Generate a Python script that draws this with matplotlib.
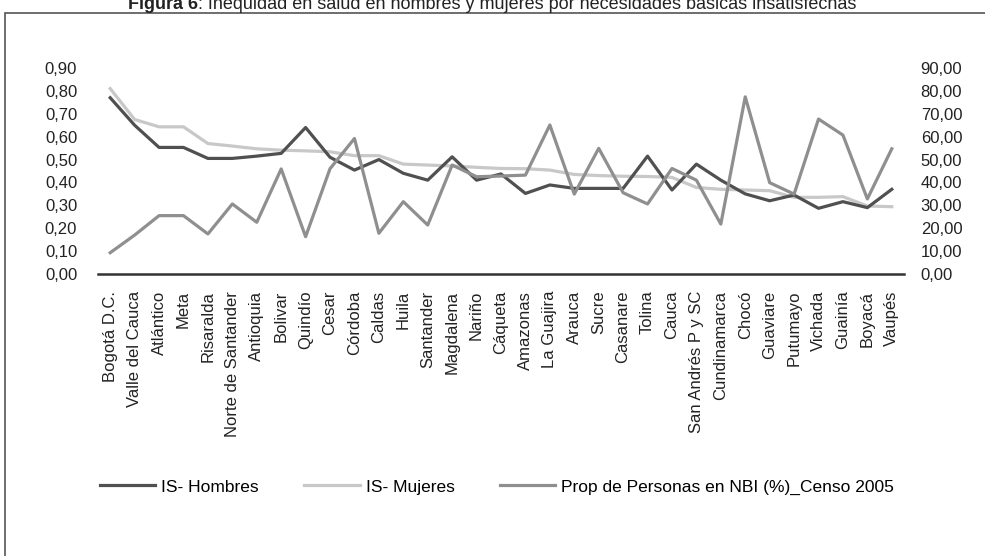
import numpy as np
import matplotlib.pyplot as plt
from matplotlib.patches import Rectangle

plt.rcParams['font.family'] = ['Liberation Sans', 'DejaVu Sans']

# departamentos
departamentos = [
    'Bogotá D.C.', 'Valle del Cauca', 'Atlántico', 'Meta', 'Risaralda',
    'Norte de Santander', 'Antioquia', 'Bolivar', 'Quindío', 'Cesar',
    'Córdoba', 'Caldas', 'Huila', 'Santander', 'Magdalena', 'Nariño',
    'Cáqueta', 'Amazonas', 'La Guajira', 'Arauca', 'Sucre', 'Casanare',
    'Tolina', 'Cauca', 'San Andrés P y SC', 'Cundinamarca', 'Chocó',
    'Guaviare', 'Putumayo', 'Vichada', 'Guainía', 'Boyacá', 'Vaupés',
]

# indice IS hombres / mujeres (eje izq.)
is_hombres = [0.77, 0.65, 0.553, 0.553, 0.505, 0.505, 0.515, 0.527, 0.64, 0.51,
              0.454, 0.50, 0.44, 0.41, 0.512, 0.41, 0.437, 0.352, 0.389, 0.374,
              0.374, 0.374, 0.515, 0.367, 0.48, 0.41, 0.35, 0.32, 0.345, 0.287,
              0.316, 0.29, 0.37]
is_mujeres = [0.81, 0.675, 0.643, 0.643, 0.57, 0.559, 0.547, 0.541, 0.538, 0.534,
              0.517, 0.517, 0.48, 0.476, 0.472, 0.466, 0.461, 0.46, 0.454, 0.435,
              0.43, 0.427, 0.426, 0.422, 0.378, 0.37, 0.367, 0.364, 0.335, 0.335,
              0.338, 0.297, 0.294]

# NBI % censo 2005 (eje der.)
nbi = [9.3, 17.0, 25.5, 25.5, 17.5, 30.6, 22.6, 45.9, 16.3, 46.0,
       59.2, 17.8, 31.6, 21.4, 47.6, 42.5, 42.8, 43.2, 65.1, 34.9,
       54.9, 35.5, 30.6, 46.1, 41.0, 21.8, 77.4, 39.9, 34.9, 67.7,
       60.7, 32.8, 54.7]

W, H = 985, 556
fig = plt.figure(figsize=(W / 100, H / 100), dpi=100, facecolor='white')

# marco de la figura (sale por la derecha y por abajo)
fig.patches.append(Rectangle((5 / W, -0.1), 1.1, 1.1 - 13 / H, transform=fig.transFigure,
                             fill=False, edgecolor='#555555', lw=1.2, zorder=0))

# titulo, cortado arriba como en el original
ty = 1 - 9 / H
t1 = fig.text(0, ty, 'Figura 6', fontsize=13, fontweight='bold',
              ha='left', va='baseline', color='#222222')
t2 = fig.text(0, ty, ': Inequidad en salud en hombres y mujeres por necesidades básicas insatisfechas',
              fontsize=13, ha='left', va='baseline', color='#222222')
fig.canvas.draw()
w1 = t1.get_window_extent().width
w2 = t2.get_window_extent().width
x0 = 492 - (w1 + w2) / 2
t1.set_x(x0 / W)
t2.set_x((x0 + w1) / W)

ax = fig.add_axes([98 / W, 1 - 274 / H, (904 - 98) / W, (274 - 68) / H])
ax2 = ax.twinx()

x = np.arange(len(departamentos))
l1, = ax.plot(x, is_hombres, color='#505050', lw=2.3, label='IS- Hombres', zorder=3)
l2, = ax.plot(x, is_mujeres, color='#c8c8c8', lw=2.3, label='IS- Mujeres', zorder=2)
l3, = ax2.plot(x, nbi, color='#8f8f8f', lw=2.3, label='Prop de Personas en NBI (%)_Censo 2005')

ax.set_xlim(-0.5, len(departamentos) - 0.5)
ax.set_ylim(0, 0.9)
ax2.set_ylim(0, 90)
ax.set_yticks(np.arange(0, 0.91, 0.1))
ax2.set_yticks(np.arange(0, 91, 10))
ax.set_yticklabels([f'{v:.2f}'.replace('.', ',') for v in np.arange(0, 0.91, 0.1)])
ax2.set_yticklabels([f'{v:.2f}'.replace('.', ',') for v in np.arange(0, 91, 10)])

ax.set_xticks(x)
ax.set_xticklabels(departamentos, rotation=90, fontsize=12, color='#222222')

for a in (ax, ax2):
    for s in ('top', 'left', 'right', 'bottom'):
        a.spines[s].set_visible(False)
ax.spines['bottom'].set_visible(True)
ax.spines['bottom'].set_color('#333333')
ax.spines['bottom'].set_linewidth(1.8)

ax.tick_params(axis='x', length=0, pad=12)
ax.tick_params(axis='y', length=0, pad=15, labelsize=12, labelcolor='#222222')
ax2.tick_params(axis='y', length=0, pad=12, labelsize=12, labelcolor='#222222')

fig.legend(handles=[l1, l2, l3], loc='center', bbox_to_anchor=(497 / W, 1 - 487 / H),
           ncol=3, frameon=False, fontsize=12.5, handlelength=3.2, columnspacing=2.6,
           handletextpad=0.35)

fig.savefig('out.png', dpi=100, facecolor='white')
